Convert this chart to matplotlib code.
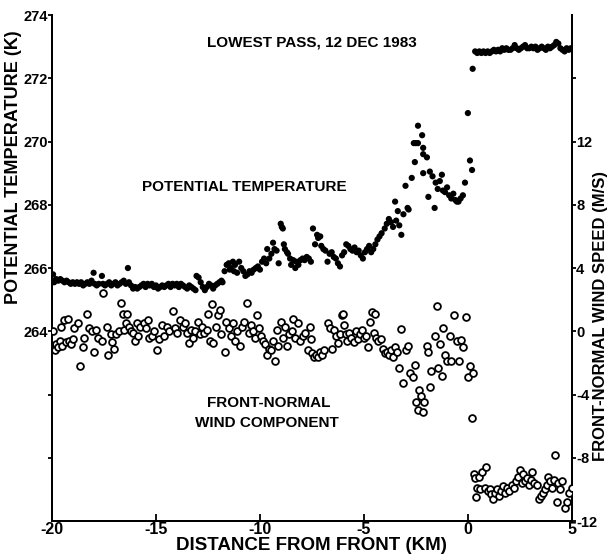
import numpy as np
import matplotlib
matplotlib.use('Agg')
import matplotlib.pyplot as plt

plt.rcParams['axes.unicode_minus'] = False
plt.rcParams['font.family'] = ['Liberation Sans', 'DejaVu Sans']

# potential temperature (K) against distance from front (km)
temp_x = [-20.0, -19.95, -19.9, -19.8, -19.7, -19.6, -19.5, -19.4, -19.3, -19.2, -19.1, -19.0,
          -18.9, -18.8, -18.7, -18.6, -18.5, -18.4, -18.3, -18.2, -18.1, -18.0, -17.95, -17.85,
          -17.75, -17.6, -17.55, -17.45, -17.35, -17.25, -17.15, -17.05, -16.95, -16.85, -16.75,
          -16.65, -16.55, -16.45, -16.35, -16.3, -16.2, -16.1, -16.0, -15.9, -15.8, -15.7, -15.6,
          -15.5, -15.4, -15.3, -15.2, -15.1, -15.0, -14.9, -14.8, -14.7, -14.6, -14.5, -14.4,
          -14.3, -14.2, -14.1, -14.0, -13.9, -13.8, -13.7, -13.6, -13.5, -13.4, -13.3, -13.2,
          -13.1, -13.05, -12.95, -12.85, -12.75, -12.65, -12.55, -12.45, -12.35, -12.25, -12.15,
          -12.05, -11.95, -11.85, -11.8, -11.7, -11.6, -11.5, -11.45, -11.4, -11.3, -11.25, -11.2,
          -11.1, -11.0, -10.9, -10.8, -10.7, -10.6, -10.5, -10.4, -10.3, -10.2, -10.1, -10.0,
          -9.9, -9.8, -9.7, -9.65, -9.55, -9.45, -9.37, -9.3, -9.2, -9.1, -9.0, -8.95, -8.9,
          -8.85, -8.8, -8.7, -8.65, -8.55, -8.5, -8.4, -8.3, -8.25, -8.15, -8.05, -7.95, -7.85,
          -7.75, -7.65, -7.55, -7.45, -7.35, -7.25, -7.2, -7.1, -7.05, -6.95, -6.85, -6.75,
          -6.65, -6.55, -6.45, -6.35, -6.25, -6.15, -6.05, -5.95, -5.85, -5.75, -5.65, -5.55,
          -5.45, -5.35, -5.25, -5.15, -5.05, -4.95, -4.85, -4.75, -4.65, -4.55, -4.45, -4.35,
          -4.25, -4.15, -4.0, -3.9, -3.8, -3.7, -3.6, -3.5, -3.45, -3.37, -3.3, -3.2, -3.1,
          -3.0, -2.9, -2.85, -2.7, -2.6, -2.55, -2.5, -2.4, -2.4, -2.2, -2.15, -2.15, -2.15,
          -1.97, -1.9, -1.83, -1.7, -1.6, -1.55, -1.45, -1.35, -1.25, -1.2, -1.1, -1.0, -0.9,
          -0.8, -0.7, -0.6, -0.53, -0.45, -0.35, -0.24, -0.14, 0.0, 0.1, 0.2, 0.23,
          0.35, 0.45, 0.55, 0.65, 0.75, 0.85, 0.95, 1.05, 1.15, 1.25, 1.35, 1.45, 1.55, 1.65,
          1.75, 1.85, 1.95, 2.05, 2.15, 2.25, 2.35, 2.45, 2.55, 2.65, 2.75, 2.85, 2.95, 3.05,
          3.15, 3.25, 3.35, 3.45, 3.55, 3.65, 3.75, 3.85, 3.95, 4.05, 4.15, 4.25, 4.35, 4.45,
          4.55, 4.65, 4.75, 4.85, 4.95]
temp_k = [265.6, 265.8, 265.55, 265.65, 265.6, 265.65, 265.6, 265.55, 265.6, 265.55, 265.5, 265.55,
          265.5, 265.55, 265.5, 265.55, 265.45, 265.5, 265.55, 265.5, 265.6, 265.85, 265.5, 265.45,
          265.5, 265.75, 265.5, 265.45, 265.5, 265.55, 265.45, 265.5, 265.55, 265.45, 265.5,
          265.55, 265.6, 265.5, 266.0, 265.55, 265.45, 265.35, 265.4, 265.35, 265.4, 265.45, 265.5,
          265.4, 265.5, 265.45, 265.5, 265.4, 265.45, 265.35, 265.4, 265.45, 265.4, 265.45, 265.5,
          265.4, 265.5, 265.45, 265.5, 265.4, 265.5, 265.45, 265.4, 265.35, 265.45, 265.4, 265.35,
          265.3, 265.75, 265.7, 265.55, 265.4, 265.3, 265.4, 265.5, 265.45, 265.35, 265.45,
          265.5, 265.55, 265.6, 265.55, 265.9, 266.1, 266.15, 265.95, 266.0, 266.2, 265.9, 266.1,
          265.85, 266.2, 266.0, 265.9, 265.75, 265.8, 265.9, 265.85, 265.95, 266.0, 266.05, 265.95,
          266.2, 266.3, 266.15, 266.6, 266.3, 266.45, 266.8, 266.6, 266.55, 266.15, 267.4, 267.3, 267.25,
          266.75, 266.6, 266.5, 266.45, 266.3, 266.1, 266.25, 266.0, 266.2, 266.1, 266.25, 266.3, 266.25,
          266.35, 266.3, 266.2, 267.25, 266.75, 267.05, 266.95, 267.0, 266.7, 266.6, 266.55, 266.2,
          266.45, 266.5, 266.35, 266.3, 266.15, 266.05, 266.4, 266.5, 266.75, 266.7, 266.6, 266.55,
          266.65, 266.5, 266.55, 266.4, 266.3, 266.5, 266.6, 266.7, 266.5, 266.6, 266.75, 266.9,
          267.0, 267.1, 267.25, 267.4, 267.55, 267.45, 267.3, 268.1, 267.5, 267.8, 267.35, 267.05, 267.7,
          268.6, 267.9, 267.85, 268.85, 269.95, 269.35, 269.95, 270.5, 269.95, 270.2, 269.8, 269.6, 269.0,
          269.5, 268.25, 269.05, 268.9, 267.9, 268.7, 268.5, 268.75, 268.95, 268.45, 268.4, 268.55, 268.3,
          268.2, 268.35, 268.15, 268.1, 268.1, 268.2, 268.3, 268.7, 270.9, 269.4, 269.1, 272.3,
          272.85, 272.8, 272.85, 272.8, 272.85, 272.8, 272.85, 272.8, 272.85, 272.9, 272.85, 272.9, 272.85, 272.95,
          272.9, 272.95, 272.9, 272.9, 272.95, 273.05, 272.95, 272.9, 272.95, 273.0, 273.05, 272.95, 272.95, 273.0,
          272.95, 273.0, 272.9, 272.95, 273.0, 272.95, 272.9, 273.0, 272.95, 273.0, 273.05, 273.15, 273.1, 272.95,
          272.9, 272.85, 272.95, 272.9, 272.95]

# front-normal wind component (m/s)
wind_x = [-19.95, -19.85, -19.8, -19.7, -19.6, -19.55, -19.5, -19.4, -19.35, -19.25, -19.2, -19.1,
          -19.0, -18.95, -18.75, -18.65, -18.5, -18.45, -18.3, -18.2, -18.1, -18.0, -17.9, -17.8,
          -17.6, -17.55, -17.35, -17.3, -17.15, -17.1, -17.0, -16.9, -16.8, -16.7, -16.6, -16.55,
          -16.45, -16.4, -16.3, -16.2, -16.1, -16.0, -15.9, -15.85, -15.75, -15.6, -15.5, -15.4,
          -15.35, -15.2, -15.1, -14.95, -14.85, -14.7, -14.6, -14.45, -14.35, -14.2, -14.1, -14.0,
          -13.85, -13.7, -13.6, -13.5, -13.4, -13.3, -13.2, -13.1, -13.0, -12.9, -12.8, -12.7,
          -12.55, -12.5, -12.4, -12.3, -12.25, -12.1, -12.0, -11.9, -11.85, -11.7, -11.65, -11.5,
          -11.4, -11.3, -11.2, -11.1, -10.95, -10.85, -10.75, -10.6, -10.55, -10.45, -10.35, -10.25,
          -10.15, -10.05, -9.95, -9.85, -9.75, -9.65, -9.55, -9.45, -9.35, -9.3, -9.2, -9.15,
          -9.0, -8.9, -8.8, -8.7, -8.6, -8.45, -8.4, -8.3, -8.15, -8.05, -7.95, -7.85, -7.7,
          -7.6, -7.55, -7.5, -7.4, -7.3, -7.2, -7.1, -7.0, -6.9, -6.75, -6.65, -6.55, -6.45,
          -6.35, -6.25, -6.15, -6.05, -6.0, -5.95, -5.85, -5.8, -5.7, -5.6, -5.5, -5.4, -5.3,
          -5.2, -5.1, -5.0, -4.9, -4.8, -4.7, -4.6, -4.5, -4.45, -4.4, -4.3, -4.2, -4.1, -4.0,
          -3.9, -3.8, -3.7, -3.6, -3.5, -3.4, -3.3, -3.2, -3.1, -3.0, -2.9, -2.8, -2.65, -2.55,
          -2.5, -2.4, -2.35, -2.25, -2.15, -2.1, -1.97, -1.9, -1.8, -1.75, -1.6, -1.5, -1.42,
          -1.35, -1.25, -1.2, -1.1, -1.0, -0.85, -0.8, -0.65, -0.5, -0.43, -0.35, -0.25, -0.1,
          0.0, 0.1, 0.25, 0.2,
          0.3, 0.35, 0.4, 0.45, 0.55, 0.6, 0.7, 0.8, 0.85, 0.95, 1.05, 1.1, 1.2, 1.3, 1.4, 1.5,
          1.6, 1.7, 1.8, 1.9, 2.0, 2.1, 2.2, 2.3, 2.4, 2.5, 2.6, 2.65, 2.75, 2.85, 2.95, 3.05,
          3.1, 3.2, 3.3, 3.4, 3.5, 3.6, 3.7, 3.8, 3.85, 3.95, 4.05, 4.15, 4.2, 4.3, 4.35, 4.45,
          4.55, 4.65, 4.75, 4.85, 5.0]
wind_ms = [0.0, -1.2, -0.8, -1.0, -0.6, 0.3, -0.9, 0.7, -0.7, 0.8, -0.6, -0.8,
           -0.5, 0.2, 0.5, -2.2, -1.0, -0.45, 1.1, 0.2, 0.0, -1.3, 0.1, -0.4,
           -0.6, 2.4, 0.3, -1.5, -0.2, -0.7, -1.1, -0.2, 0.0, 1.8, 1.07, 0.1,
           0.5, 1.07, 0.3, 0.0, -0.1, -0.6, 0.5, -0.3, 0.3, 0.5, 0.2, 0.7,
           -0.4, -0.3, 0.0, -1.2, -0.5, 0.4, -0.3, 0.3, 0.0, 1.27, 0.2, -0.1,
           0.7, 0.3, 0.5, -0.1, -0.75, 0.1, -0.4, 0.0, 0.6, -0.2, 0.3, -0.1,
           0.1, 1.1, -0.6, 1.7, -0.75, 0.3, 1.0, 1.33, -0.2, -1.33, 0.6, 0.2,
           -0.3, 0.5, -0.6, 0.0, -0.95, 0.3, 0.6, 1.8, -0.1, 0.4, 0.0, -0.4,
           1.0, 0.2, -0.3, -0.6, -0.8, -1.5, -1.1, -1.2, -0.6, -1.85, 0.06, -0.9,
           0.57, -0.4, 0.25, -0.9, -0.2, 0.0, 0.8, -0.4, 0.5, -0.6, -0.3, -0.1, -1.2,
           0.25, -0.5, -1.4, -1.6, -1.5, -1.65, -1.3, -1.5, -1.2, 0.5, 0.2, -1.1, 0.06,
           -0.3, -0.75, -0.2, 1.0, 1.1, 0.38, -0.2, -0.6, -0.1, -0.4, -0.7, 0.0, -0.5,
           -0.2, 0.06, -0.4, -0.3, -1.0, 0.57, 1.2, -0.1, 1.1, -0.4, -0.6, -0.5, -1.1, -1.4,
           -1.3, -1.5, -1.2, -1.6, -1.0, -1.3, -2.3, 0.13, -3.3, -1.2, -0.95, -2.65, -2.9, -2.15,
           -4.5, -5.0, -3.7, -4.1, -5.13, -4.5, -0.9, -1.3, -3.5, -2.5, -0.3, 1.6, -2.35,
           -0.8, -2.8, 0.2, -1.5, -1.85, -0.3, -1.9, 1.0, -0.6, -1.85, -0.57, -1.0, 0.9,
           -2.9, -2.2, -2.65, -5.5,
           -9.0, -9.3, -10.5, -9.9, -9.2, -10.0, -8.9, -9.9, -8.6, -10.1, -10.0, -10.3, -10.6, -10.2, -10.0, -10.4,
           -10.1, -9.8, -10.2, -9.9, -10.1, -9.75, -9.9, -9.5, -9.2, -8.75, -9.6, -9.0, -9.5, -9.3, -9.7, -9.4,
           -8.9, -9.6, -9.75, -10.6, -10.4, -10.2, -10.0, -9.7, -9.2, -9.5, -9.9, -9.4, -7.8, -10.8, -9.6, -10.0,
           -9.5, -11.2, -10.8, -10.2, -9.9]

x_ticks = [-20, -15, -10, -5, 0, 5]
x_labels = ['-20', '-15', '-10', '-5', '0', '5']
left_ticks = [260, 262, 264, 266, 268, 270, 272, 274]
left_labels = ['', '', '264', '266', '268', '270', '272', '274']
right_ticks = [-12, -8, -4, 0, 4, 8, 12, 16]
right_labels = ['-12', '-8', '-4', '0', '4', '8', '12', '']

narrow = ['Liberation Sans Narrow', 'Liberation Sans', 'DejaVu Sans']

fig = plt.figure(figsize=(6.09, 5.57), dpi=100)
ax = fig.add_axes([0.0854, 0.0646, 0.8536, 0.9084])
ax2 = ax.twinx()

ax.scatter(temp_x, temp_k, s=20, c='black', edgecolors='none', zorder=3)
ax2.scatter(wind_x, wind_ms, s=24, facecolors='white', edgecolors='black', linewidths=1.3, zorder=3)

ax.set_xlim(-20, 5)
ax.set_ylim(258, 274)
ax2.set_ylim(-12, 20)

for a in (ax, ax2):
    a.spines['top'].set_visible(False)
    for sp in a.spines.values():
        sp.set_linewidth(1.4)

ax.set_xticks(x_ticks)
ax.set_xticklabels(x_labels, fontfamily=narrow, fontweight='bold', fontsize=11.5)
ax.tick_params(axis='x', direction='in', length=5, width=1.3, pad=1)
ax.set_yticks(left_ticks)
ax.set_yticklabels(left_labels, fontfamily=narrow, fontweight='bold', fontsize=10.5)
ax.tick_params(axis='y', direction='out', length=3, width=1.3, pad=0)
ax2.set_yticks(right_ticks)
ax2.set_yticklabels(right_labels, fontfamily=narrow, fontweight='bold', fontsize=10.5)
ax2.tick_params(axis='y', direction='out', length=3, width=1.3, pad=0)

ax.set_xlabel('DISTANCE FROM FRONT (KM)', fontsize=13.5, fontweight='bold', labelpad=0)
ax.set_ylabel('POTENTIAL TEMPERATURE (K)', fontsize=13, fontweight='bold')
ax2.set_ylabel('FRONT-NORMAL WIND SPEED (M/S)', fontsize=12, fontweight='bold',
               rotation=90)
ax.yaxis.set_label_coords(-0.058, 0.70)
ax2.yaxis.set_label_coords(1.04, 0.405)

ax.text(-7.5, 273.13, 'LOWEST PASS, 12 DEC 1983', ha='center', va='center',
        fontsize=11, fontweight='bold')
ax.text(-10.75, 268.57, 'POTENTIAL TEMPERATURE', ha='center', va='center',
        fontsize=11, fontweight='bold')
ax.text(-9.6, 261.72, 'FRONT-NORMAL', ha='center', va='center',
        fontsize=11, fontweight='bold')
ax.text(-9.65, 261.1, 'WIND COMPONENT', ha='center', va='center',
        fontsize=11, fontweight='bold')

fig.savefig('out.png', dpi=100)
